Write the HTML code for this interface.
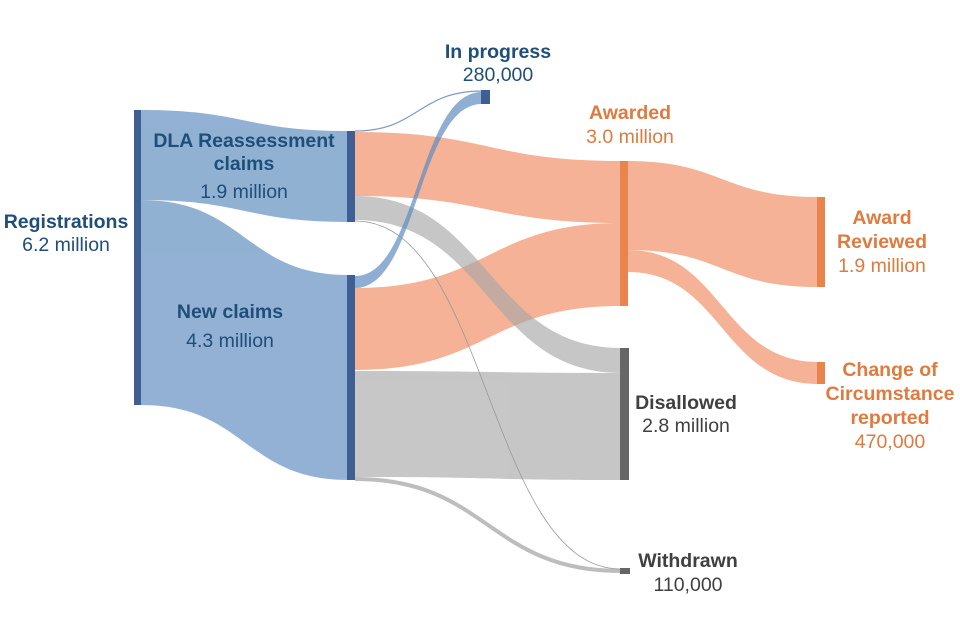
<!DOCTYPE html>
<html><head><meta charset="utf-8"><style>
body{margin:0;background:#fff;}
svg{display:block;font-family:"Liberation Sans",Arial,sans-serif;}
</style></head><body>
<svg width="960" height="640" viewBox="0 0 960 640" xmlns="http://www.w3.org/2000/svg">
<g opacity="0.9">
<path d="M141,110 C245,110 245,131 348,131 L348,222 C245,222 245,200 141,200 Z" fill="#86a9cf"/>
<path d="M141,200 C245,200 245,275 348,275 L348,480 C245,480 245,405 141,405 Z" fill="#86a9cf"/>
</g>
<g opacity="0.85">
<path d="M355,132 C488,132 488,161 621,161 L621,223 C488,223 488,196 355,196 Z" fill="#f4a584"/>
<path d="M355,288 C488,288 488,223 621,223 L621,306 C488,306 488,370 355,370 Z" fill="#f4a584"/>
<path d="M355,371 C488,371 488,373 621,373 L621,480 C488,480 488,477 355,477 Z" fill="#bdbdbd"/>
<path d="M628,161 C722,161 722,197 818,197 L818,287 C722,287 722,250 628,250 Z" fill="#f4a584"/>
<path d="M628,250 C722,250 722,362 818,362 L818,384 C722,384 722,272 628,272 Z" fill="#f4a584"/>
</g>
<path d="M355,196 C488,196 488,348 621,348 L621,373 C488,373 488,220 355,220 Z" fill="#a8a8a8" opacity="0.65"/>
<path d="M355,276 C418,276 418,92 482,92 L482,104 C418,104 418,288 355,288 Z" fill="#5f8cc2" opacity="0.7"/>
<path d="M355,479 C488,479 488,571 621,571" fill="none" stroke="#bdbdbd" stroke-width="4"/>
<path d="M355,131 C418,131 418,91 482,91" fill="none" stroke="#7d9cc4" stroke-width="1.2"/>
<path d="M355,221 C488,221 488,569 621,569" fill="none" stroke="#999" stroke-width="0.8"/>
<rect x="134" y="110" width="7" height="295" fill="#3f5e91"/>
<rect x="347" y="131" width="8" height="91" fill="#3f5e91"/>
<rect x="347" y="275" width="8" height="205" fill="#3f5e91"/>
<rect x="481" y="90" width="9" height="14" fill="#3f5e91"/>
<rect x="620" y="161" width="8" height="145" fill="#e8844c"/>
<rect x="620" y="348" width="9" height="132" fill="#666"/>
<rect x="620" y="568" width="10" height="6" fill="#666"/>
<rect x="817" y="197" width="8" height="90" fill="#e8844c"/>
<rect x="817" y="362" width="8" height="22" fill="#e8844c"/>
<g font-size="19.5" text-anchor="middle">
<text x="66" y="228" fill="#1f4e79" font-weight="bold">Registrations</text>
<text x="66" y="251" fill="#1f4e79">6.2 million</text>
<text x="244" y="147" fill="#1f4e79" font-weight="bold">DLA Reassessment</text>
<text x="244" y="170" fill="#1f4e79" font-weight="bold">claims</text>
<text x="244" y="198" fill="#1f4e79">1.9 million</text>
<text x="230" y="318" fill="#1f4e79" font-weight="bold">New claims</text>
<text x="230" y="347" fill="#1f4e79">4.3 million</text>
<text x="498" y="58" fill="#1f4e79" font-weight="bold">In progress</text>
<text x="498" y="81" fill="#1f4e79">280,000</text>
<text x="630" y="119" fill="#e07a3e" font-weight="bold">Awarded</text>
<text x="630" y="143" fill="#e07a3e">3.0 million</text>
<text x="686" y="409" fill="#404040" font-weight="bold">Disallowed</text>
<text x="686" y="432" fill="#404040">2.8 million</text>
<text x="688" y="567" fill="#404040" font-weight="bold">Withdrawn</text>
<text x="688" y="591" fill="#404040">110,000</text>
<text x="882" y="224" fill="#e07a3e" font-weight="bold">Award</text>
<text x="882" y="248" fill="#e07a3e" font-weight="bold">Reviewed</text>
<text x="882" y="272" fill="#e07a3e">1.9 million</text>
<text x="890" y="376" fill="#e07a3e" font-weight="bold">Change of</text>
<text x="890" y="400" fill="#e07a3e" font-weight="bold">Circumstance</text>
<text x="890" y="424" fill="#e07a3e" font-weight="bold">reported</text>
<text x="890" y="448" fill="#e07a3e">470,000</text>
</g>
</svg>
</body></html>
